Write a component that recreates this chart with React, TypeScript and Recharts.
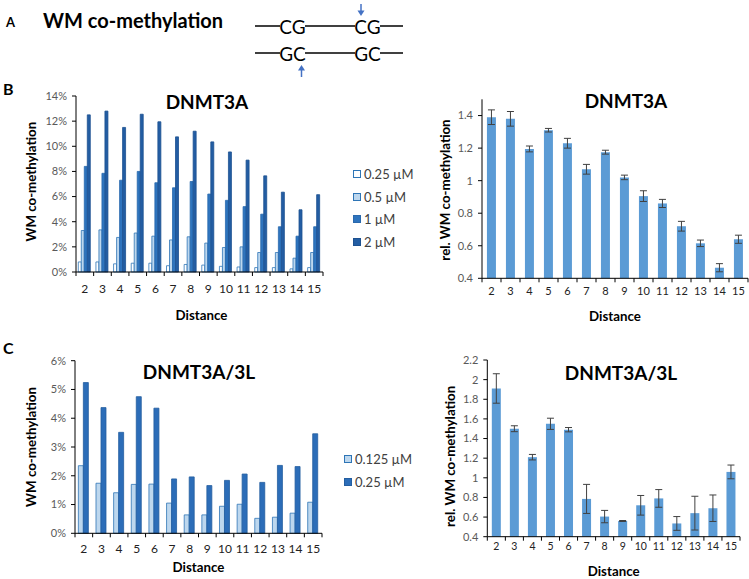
import React from 'react';
import { BarChart, Bar, XAxis, YAxis, ErrorBar, Legend, Label } from 'recharts';

const FONT = 'Lato, "Open Sans", sans-serif';

// ---------- data ----------
const distances = ['2', '3', '4', '5', '6', '7', '8', '9', '10', '11', '12', '13', '14', '15'];

// Panel B (DNMT3A), WM co-methylation in %
const b_025 = [0.8, 0.8, 0.65, 0.7, 0.7, 0.5, 0.6, 0.55, 0.45, 0.4, 0.35, 0.35, 0.25, 0.35];
const b_05 = [3.3, 3.35, 2.75, 3.1, 2.85, 2.55, 2.8, 2.3, 1.95, 2.0, 1.55, 1.55, 1.1, 1.55];
const b_1 = [8.4, 7.85, 7.3, 8.0, 7.1, 6.7, 7.2, 6.2, 5.7, 5.2, 4.6, 3.6, 2.85, 3.6];
const b_2 = [12.5, 12.8, 11.5, 12.55, 11.95, 10.75, 11.2, 10.35, 9.55, 8.9, 7.65, 6.35, 4.95, 6.15];
const bTicks = [0, 2, 4, 6, 8, 10, 12, 14];

// Panel B right, relative WM co-methylation
const bRel = [1.39, 1.38, 1.195, 1.31, 1.23, 1.07, 1.175, 1.02, 0.905, 0.86, 0.72, 0.615, 0.465, 0.64];
const bRelErr = [0.045, 0.045, 0.018, 0.011, 0.03, 0.03, 0.012, 0.014, 0.033, 0.025, 0.03, 0.02, 0.025, 0.025];
const bRelTicks = [0.4, 0.6, 0.8, 1, 1.2, 1.4];

// Panel C (DNMT3A/3L), WM co-methylation in %
const c_0125 = [2.35, 1.74, 1.41, 1.7, 1.71, 1.05, 0.64, 0.64, 0.94, 1.01, 0.52, 0.56, 0.7, 1.08];
const c_025 = [5.24, 4.37, 3.51, 4.75, 4.35, 1.89, 1.96, 1.66, 1.84, 2.06, 1.77, 2.36, 2.32, 3.46];
const cTicks = [0, 1, 2, 3, 4, 5, 6];

// Panel C right, relative WM co-methylation
const cRel = [1.91, 1.5, 1.21, 1.55, 1.49, 0.785, 0.605, 0.56, 0.72, 0.79, 0.535, 0.64, 0.69, 1.06];
const cRelErr = [0.15, 0.03, 0.028, 0.057, 0.022, 0.148, 0.063, 0.005, 0.1, 0.09, 0.07, 0.172, 0.135, 0.07];
const cRelTicks = [0.4, 0.6, 0.8, 1, 1.2, 1.4, 1.6, 1.8, 2, 2.2];

const seriesB = [
  { key: 'c025', name: '0.25 µM', fill: '#FFFFFF', stroke: '#2E75B6' },
  { key: 'c05', name: '0.5 µM', fill: '#BDD7EE', stroke: '#2E75B6' },
  { key: 'c1', name: '1 µM', fill: '#2E74BE', stroke: '#2A69AD' },
  { key: 'c2', name: '2 µM', fill: '#235DA3', stroke: '#1D5190' },
];
const seriesC = [
  { key: 'c0125', name: '0.125 µM', fill: '#BDD7EE', stroke: '#2E75B6' },
  { key: 'c025', name: '0.25 µM', fill: '#2C6DB8', stroke: '#245EA0' },
];

const tableB = distances.map((d, i) => ({ d, c025: b_025[i], c05: b_05[i], c1: b_1[i], c2: b_2[i] }));
const tableBRel = distances.map((d, i) => ({ d, v: bRel[i], e: bRelErr[i] }));
const tableC = distances.map((d, i) => ({ d, c0125: c_0125[i], c025: c_025[i] }));
const tableCRel = distances.map((d, i) => ({ d, v: cRel[i], e: cRelErr[i] }));

// ---------- helpers ----------
const TICK_SIZE = 4;

// x tick: label centred `dLabel` px below the axis line; tick marks between categories
function makeXTick(band: number, dLabel: number, n: number, fontSize: number) {
  return (props: any) => {
    const { x, y, payload, index } = props;
    const axisY = y - TICK_SIZE;
    return (
      <g>
        <line x1={x - band / 2} x2={x - band / 2} y1={axisY} y2={axisY + TICK_SIZE} stroke="#000" strokeWidth={1} />
        {index === n - 1 && (
          <line x1={x + band / 2} x2={x + band / 2} y1={axisY} y2={axisY + TICK_SIZE} stroke="#000" strokeWidth={1} />
        )}
        <text x={x} y={axisY + dLabel} textAnchor="middle" dominantBaseline="central" fontFamily={FONT} fontSize={fontSize} fill="#222">
          {payload.value}
        </text>
      </g>
    );
  };
}

function xLabel(dx: number, dy: number, text: string) {
  return (props: any) => {
    const vb = props.viewBox || {};
    const x = vb.x + vb.width / 2 + dx;
    const y = vb.y + dy;
    return (
      <text x={x} y={y} textAnchor="middle" dominantBaseline="central" fontFamily={FONT} fontWeight="bold" fontSize={13.3} fill="#000">
        {text}
      </text>
    );
  };
}

function yLabel(x: number, dy: number, text: string) {
  return (props: any) => {
    const vb = props.viewBox || {};
    const y = vb.y + vb.height / 2 + dy;
    return (
      <text
        x={x}
        y={y}
        textAnchor="middle"
        dominantBaseline="central"
        fontFamily={FONT}
        fontWeight="bold"
        fontSize={13.3}
        fill="#000"
        transform={`rotate(-90 ${x} ${y})`}
      >
        {text}
      </text>
    );
  };
}

function makeLegend(series: typeof seriesB) {
  return () => (
    <div style={{ fontFamily: FONT, fontSize: 13, color: '#404040' }}>
      {series.map((s) => (
        <div key={s.key} style={{ height: 22.7, display: 'flex', alignItems: 'center', whiteSpace: 'nowrap' }}>
          <span
            style={{
              display: 'inline-block',
              width: 6,
              height: 6,
              border: `1px solid ${s.stroke}`,
              background: s.fill,
              marginRight: 3,
            }}
          />
          {s.name}
        </div>
      ))}
    </div>
  );
}

const yTick = { fontFamily: FONT, fontSize: 11, fill: '#595959' };

export default function App() {
  return (
    <div style={{ position: 'absolute', left: 0, top: 0, width: 749, height: 579, background: '#fff', overflow: 'hidden' }}>
      {/* Panel B left */}
      <div style={{ position: 'absolute', left: 0, top: 80 }}>
        <BarChart width={420} height={250} data={tableB} margin={{ top: 16, right: 97, bottom: 0, left: 0 }} barCategoryGap="13%" barGap={0}>
          <XAxis
            dataKey="d"
            height={58}
            interval={0}
            axisLine={{ stroke: '#000' }}
            tickLine={false}
            tickSize={TICK_SIZE}
            tickMargin={0}
            tick={makeXTick(247 / 14, 16, 14, 12)}
          >
            <Label content={xLabel(2, 43, 'Distance')} />
          </XAxis>
          <YAxis
            width={76}
            domain={[0, 14]}
            ticks={bTicks}
            tickFormatter={(v: number) => `${v}%`}
            axisLine={{ stroke: '#000' }}
            tickLine={{ stroke: '#000' }}
            tickSize={4}
            tickMargin={5}
            tick={yTick}
          >
            <Label content={yLabel(31, -2.3, 'WM co-methylation')} />
          </YAxis>
          <Legend
            layout="vertical"
            align="center"
            verticalAlign="middle"
            wrapperStyle={{ left: 353, top: 82.6, width: 70, right: 'auto', bottom: 'auto' }}
            content={makeLegend(seriesB)}
          />
          {seriesB.map((s) => (
            <Bar key={s.key} dataKey={s.key} name={s.name} fill={s.fill} stroke={s.stroke} strokeWidth={0.8} isAnimationActive={false} />
          ))}
        </BarChart>
      </div>

      {/* Panel B right */}
      <div style={{ position: 'absolute', left: 420, top: 80 }}>
        <BarChart width={329} height={250} data={tableBRel} margin={{ top: 19.3, right: 1, bottom: 0, left: 0 }} barCategoryGap="26%">
          <XAxis
            dataKey="d"
            height={51.7}
            interval={0}
            axisLine={{ stroke: '#000' }}
            tickLine={false}
            tickSize={TICK_SIZE}
            tickMargin={0}
            tick={makeXTick(266 / 14, 11.7, 14, 11)}
          >
            <Label content={xLabel(0, 38, 'Distance')} />
          </XAxis>
          <YAxis
            width={62}
            domain={[0.4, 1.5]}
            ticks={bRelTicks}
            axisLine={{ stroke: '#000' }}
            tickLine={{ stroke: '#000' }}
            tickSize={4}
            tickMargin={5}
            tick={yTick}
          >
            <Label content={yLabel(25, 1.2, 'rel. WM co-methylation')} />
          </YAxis>
          <Bar dataKey="v" fill="#5B9BD5" isAnimationActive={false}>
            <ErrorBar dataKey="e" width={3.5} stroke="#404040" strokeWidth={1} direction="y" />
          </Bar>
        </BarChart>
      </div>

      {/* Panel C left */}
      <div style={{ position: 'absolute', left: 0, top: 330 }}>
        <BarChart width={420} height={249} data={tableC} margin={{ top: 30.7, right: 98, bottom: 0, left: 0 }} barCategoryGap="19%" barGap={0}>
          <XAxis
            dataKey="d"
            height={45.7}
            interval={0}
            axisLine={{ stroke: '#000' }}
            tickLine={false}
            tickSize={TICK_SIZE}
            tickMargin={0}
            tick={makeXTick(247 / 14, 14.7, 14, 12)}
          >
            <Label content={xLabel(0, 33.5, 'Distance')} />
          </XAxis>
          <YAxis
            width={75}
            domain={[0, 6]}
            ticks={cTicks}
            tickFormatter={(v: number) => `${v}%`}
            axisLine={{ stroke: '#000' }}
            tickLine={{ stroke: '#000' }}
            tickSize={4}
            tickMargin={5}
            tick={yTick}
          >
            <Label content={yLabel(31, 0, 'WM co-methylation')} />
          </YAxis>
          <Legend
            layout="vertical"
            align="center"
            verticalAlign="middle"
            wrapperStyle={{ left: 344, top: 117.6, width: 76, right: 'auto', bottom: 'auto' }}
            content={makeLegend(seriesC)}
          />
          {seriesC.map((s) => (
            <Bar key={s.key} dataKey={s.key} name={s.name} fill={s.fill} stroke={s.stroke} strokeWidth={0.8} isAnimationActive={false} />
          ))}
        </BarChart>
      </div>

      {/* Panel C right */}
      <div style={{ position: 'absolute', left: 420, top: 330 }}>
        <BarChart width={329} height={249} data={tableCRel} margin={{ top: 30, right: 9, bottom: 0, left: 0 }} barCategoryGap="25%">
          <XAxis
            dataKey="d"
            height={42.3}
            interval={0}
            axisLine={{ stroke: '#000' }}
            tickLine={false}
            tickSize={TICK_SIZE}
            tickMargin={0}
            tick={makeXTick(252.7 / 14, 9.6, 14, 10.5)}
          >
            <Label content={xLabel(0, 34.5, 'Distance')} />
          </XAxis>
          <YAxis
            width={67.3}
            domain={[0.4, 2.2]}
            ticks={cRelTicks}
            axisLine={{ stroke: '#000' }}
            tickLine={{ stroke: '#000' }}
            tickSize={4}
            tickMargin={5}
            tick={yTick}
          >
            <Label content={yLabel(30, 8, 'rel. WM co-methylation')} />
          </YAxis>
          <Bar dataKey="v" fill="#5B9BD5" isAnimationActive={false}>
            <ErrorBar dataKey="e" width={3.5} stroke="#404040" strokeWidth={1} direction="y" />
          </Bar>
        </BarChart>
      </div>

      {/* Overlay: panel letters, scheme, titles */}
      <svg width={749} height={579} style={{ position: 'absolute', left: 0, top: 0, pointerEvents: 'none' }}>
        <g fontFamily={FONT}>
          <text x={6} y={22} dominantBaseline="central" fontSize={13} fontWeight="bold" fill="#000">A</text>
          <text x={43} y={20} dominantBaseline="central" fontSize={20} fontWeight="bold" fill="#000">WM co-methylation</text>
          <text x={3} y={88} dominantBaseline="central" fontSize={16} fontWeight="bold" fill="#000">B</text>
          <text x={3} y={347} dominantBaseline="central" fontSize={16} fontWeight="bold" fill="#000">C</text>

          {/* DNA scheme */}
          <g stroke="#000" strokeWidth={1.5}>
            <line x1={255} x2={280} y1={26} y2={26} />
            <line x1={305} x2={355} y1={26} y2={26} />
            <line x1={380} x2={403} y1={26} y2={26} />
            <line x1={255} x2={280} y1={53} y2={53} />
            <line x1={305} x2={355} y1={53} y2={53} />
            <line x1={380} x2={403} y1={53} y2={53} />
          </g>
          <text x={292.5} y={26} textAnchor="middle" dominantBaseline="central" fontSize={19} fill="#000">CG</text>
          <text x={367.5} y={26} textAnchor="middle" dominantBaseline="central" fontSize={19} fill="#000">CG</text>
          <text x={292.5} y={53} textAnchor="middle" dominantBaseline="central" fontSize={19} fill="#000">GC</text>
          <text x={367.5} y={53} textAnchor="middle" dominantBaseline="central" fontSize={19} fill="#000">GC</text>
          <line x1={361} x2={361} y1={4} y2={11} stroke="#4472C4" strokeWidth={1.5} />
          <polygon points="357.5,10.5 364.5,10.5 361,16" fill="#4472C4" />
          <line x1={301.5} x2={301.5} y1={77} y2={70} stroke="#4472C4" strokeWidth={1.5} />
          <polygon points="298,70.5 305,70.5 301.5,65" fill="#4472C4" />

          {/* chart titles */}
          <text x={207} y={101} textAnchor="middle" dominantBaseline="central" fontSize={19} fontWeight="bold" fill="#000">DNMT3A</text>
          <text x={626} y={100} textAnchor="middle" dominantBaseline="central" fontSize={19} fontWeight="bold" fill="#000">DNMT3A</text>
          <text x={199} y={371} textAnchor="middle" dominantBaseline="central" fontSize={19} fontWeight="bold" fill="#000">DNMT3A/3L</text>
          <text x={621} y={372} textAnchor="middle" dominantBaseline="central" fontSize={19} fontWeight="bold" fill="#000">DNMT3A/3L</text>
        </g>
      </svg>
    </div>
  );
}
